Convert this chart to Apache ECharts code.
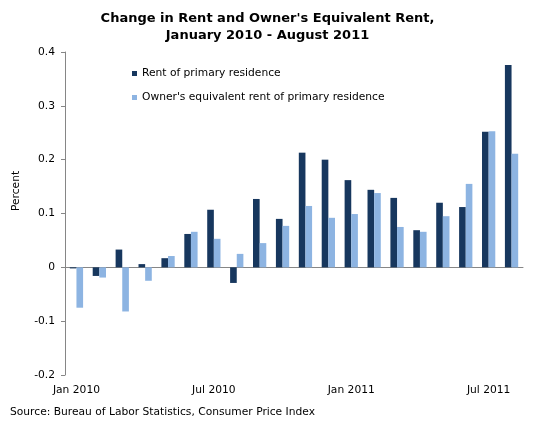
<!DOCTYPE html>
<html><head><meta charset="utf-8">
<script src="https://cdn.jsdelivr.net/npm/echarts@6/dist/echarts.min.js"></script>
<style>html,body{margin:0;padding:0;background:#fff}#c{width:535px;height:427px}</style>
</head><body><div id="c"></div>
<script>
const categories = ["Jan 2010","Feb 2010","Mar 2010","Apr 2010","May 2010","Jun 2010","Jul 2010","Aug 2010","Sep 2010","Oct 2010","Nov 2010","Dec 2010","Jan 2011","Feb 2011","Mar 2011","Apr 2011","May 2011","Jun 2011","Jul 2011","Aug 2011"];
const rentPrimary = [-0.002,-0.016,0.033,0.006,0.017,0.062,0.107,-0.029,0.127,0.090,0.213,0.200,0.162,0.144,0.129,0.069,0.120,0.112,0.252,0.376];
const ownersEquivalent = [-0.075,-0.019,-0.082,-0.025,0.021,0.066,0.053,0.025,0.045,0.077,0.114,0.092,0.099,0.138,0.075,0.066,0.095,0.155,0.253,0.211];
const seriesNames = ["Rent of primary residence","Owner's equivalent rent of primary residence"];
const titleText = "Change in Rent and Owner's Equivalent Rent,\nJanuary 2010 - August 2011";
const sourceText = "Source: Bureau of Labor Statistics, Consumer Price Index";
const yAxisTitle = "Percent";

const FONT = "DejaVu Sans";
const FS = 10.7;
const chart = echarts.init(document.getElementById('c'), null, {renderer:'canvas'});
chart.setOption({
  animation:false,
  textStyle:{fontFamily:FONT},
  title:{text:titleText,left:'center',top:5,textStyle:{fontFamily:FONT,fontSize:13,fontWeight:'bold',color:'#000',lineHeight:17}},
  legend:{orient:'vertical',left:127,top:63,itemWidth:5,itemHeight:5,itemGap:13,icon:'rect',
    textStyle:{fontFamily:FONT,fontSize:FS,color:'#000'}},
  grid:{left:65,right:12,top:52,bottom:52,outerBoundsMode:'none',containLabel:false},
  xAxis:[
    {type:'category',data:categories,
      axisLine:{onZero:true,lineStyle:{color:'#868686'}},
      axisTick:{interval:5,length:3,lineStyle:{color:'#868686'}},
      axisLabel:{show:false}
    },
    {type:'category',data:categories,position:'bottom',
      axisLine:{show:false},axisTick:{show:false},
      axisLabel:{interval:5,color:'#000',fontSize:FS,fontFamily:FONT,margin:10}
    }
  ],
  yAxis:{type:'value',min:-0.2,max:0.4,interval:0.1,
    splitLine:{show:false},
    axisLine:{show:true,lineStyle:{color:'#868686'}},
    axisTick:{show:true,length:4,lineStyle:{color:'#868686'}},
    axisLabel:{color:'#000',fontSize:FS,fontFamily:FONT,margin:10,formatter:v=>String(Math.round(v*10)/10)}
  },
  graphic:[
    {type:'text',left:10,top:407,style:{text:sourceText,font:FS+'px "DejaVu Sans"',fill:'#000'}},
    {type:'text',x:16,y:191,rotation:Math.PI/2,style:{text:yAxisTitle,font:FS+'px "DejaVu Sans"',fill:'#000',align:'center',verticalAlign:'middle'}}
  ],
  series:[
    {name:seriesNames[0],type:'bar',data:rentPrimary,itemStyle:{color:'#17375E'},barGap:'0%',barCategoryGap:'42%'},
    {name:seriesNames[1],type:'bar',data:ownersEquivalent,itemStyle:{color:'#8DB4E2'},barGap:'0%',barCategoryGap:'42%'}
  ]
});
</script></body></html>
